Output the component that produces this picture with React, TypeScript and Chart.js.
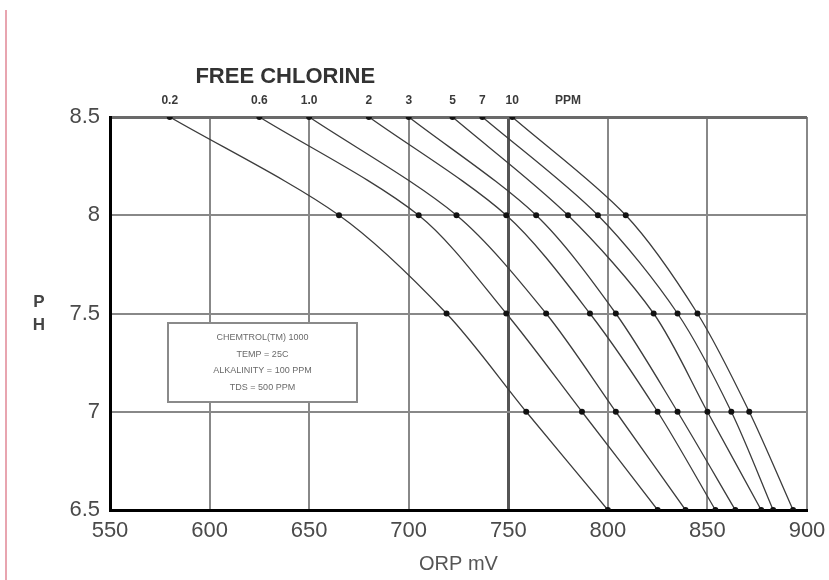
import React, { useEffect, useRef } from "react";
import { Chart, registerables } from "chart.js";

Chart.register(...registerables);

// pH levels at which each curve is read
const phLevels = [8.5, 8, 7.5, 7, 6.5];

// Free chlorine concentrations (PPM) and the ORP (mV) of each curve at the pH levels above
const ppmLabels = ["0.2", "0.6", "1.0", "2", "3", "5", "7", "10"];
const orp0_2 = [580, 665, 719, 759, 800];
const orp0_6 = [625, 705, 749, 787, 825];
const orp1_0 = [650, 724, 769, 804, 839];
const orp2 = [680, 749, 791, 825, 854];
const orp3 = [700, 764, 804, 835, 864];
const orp5 = [722, 780, 823, 850, 877];
const orp7 = [737, 795, 835, 862, 883];
const orp10 = [752, 809, 845, 871, 893];
const series = [orp0_2, orp0_6, orp1_0, orp2, orp3, orp5, orp7, orp10];

// axis ticks
const xTicks = [550, 600, 650, 700, 750, 800, 850, 900];
const yTicks = [6.5, 7, 7.5, 8, 8.5];

const noteLines = ["CHEMTROL(TM) 1000", "TEMP = 25C", "ALKALINITY = 100 PPM", "TDS = 500 PPM"];

const FONT = "'Liberation Sans', Arial, sans-serif";

const overlay = {
  id: "overlay",
  beforeDatasetsDraw(chart: any) {
    const { ctx } = chart;
    const xs = chart.scales.x;
    const ys = chart.scales.y;
    const l = Math.round(xs.getPixelForValue(579));
    const r = Math.round(xs.getPixelForValue(674));
    const t = Math.round(ys.getPixelForValue(7.45));
    const b = Math.round(ys.getPixelForValue(7.05));
    ctx.save();
    ctx.fillStyle = "#ffffff";
    ctx.fillRect(l, t, r - l, b - t);
    ctx.strokeStyle = "#8a8a8a";
    ctx.lineWidth = 2;
    ctx.strokeRect(l, t, r - l, b - t);
    ctx.fillStyle = "#6a6a6a";
    ctx.font = `9px ${FONT}`;
    ctx.textAlign = "center";
    ctx.textBaseline = "middle";
    const cx = (l + r) / 2;
    const step = (b - t) / (noteLines.length + 0.8);
    noteLines.forEach((s, i) => {
      ctx.fillText(s, cx, t + step * (i + 0.9));
    });
    ctx.restore();
  },
  afterDraw(chart: any) {
    const { ctx } = chart;
    const xs = chart.scales.x;
    const ys = chart.scales.y;
    ctx.save();
    // title
    ctx.fillStyle = "#333";
    ctx.font = `bold 22px ${FONT}`;
    ctx.textAlign = "center";
    ctx.textBaseline = "middle";
    ctx.fillText("FREE CHLORINE", xs.getPixelForValue(638), 77);
    // concentration labels
    ctx.font = `bold 12px ${FONT}`;
    ctx.fillStyle = "#3a3a3a";
    series.forEach((arr, i) => {
      ctx.fillText(ppmLabels[i], xs.getPixelForValue(arr[0]), 101);
    });
    ctx.fillText("PPM", xs.getPixelForValue(780), 101);
    // pH label
    ctx.font = `bold 17px ${FONT}`;
    ctx.fillStyle = "#444";
    const py = ys.getPixelForValue(7.5);
    ctx.fillText("P", 39, py - 11);
    ctx.fillText("H", 39, py + 12);
    ctx.restore();
  },
};

export default function App() {
  const ref = useRef<HTMLCanvasElement | null>(null);
  useEffect(() => {
    if (!ref.current) return;
    const datasets = series.map((arr, i) => ({
      label: ppmLabels[i] + " PPM",
      data: arr.map((v, j) => ({ x: v, y: phLevels[j] })),
      borderColor: "#3c3c3c",
      borderWidth: 1.3,
      pointRadius: 3,
      pointBackgroundColor: "#111",
      pointBorderWidth: 0,
      tension: 0.3,
      showLine: true,
      fill: false,
    }));
    const chart = new Chart(ref.current, {
      type: "scatter",
      data: { datasets },
      plugins: [overlay],
      options: {
        animation: false,
        responsive: false,
        layout: { padding: { top: 117, right: 22, left: 0, bottom: 0 } },
        plugins: { legend: { display: false }, tooltip: { enabled: false }, title: { display: false } },
        scales: {
          x: {
            type: "linear",
            min: xTicks[0],
            max: xTicks[xTicks.length - 1],
            afterBuildTicks: (s: any) => {
              s.ticks = xTicks.map((v) => ({ value: v }));
            },
            afterFit: (s: any) => {
              s.height = 70;
              s.paddingRight = 0;
              s.paddingLeft = 0;
            },
            ticks: { font: { size: 22, family: FONT }, color: "#4a4a4a", padding: 8, maxRotation: 0 },
            grid: {
              drawTicks: false,
              color: (c: any) => (c.tick && c.tick.value === 750 ? "#555" : "#888"),
              lineWidth: (c: any) => (c.tick && c.tick.value === 750 ? 3 : 2),
            },
            border: { display: true, color: "#000", width: 3 },
            title: {
              display: true,
              text: "ORP mV",
              font: { size: 20, family: FONT },
              color: "#555",
              padding: { top: 0, bottom: 4 },
            },
          },
          y: {
            type: "linear",
            min: yTicks[0],
            max: yTicks[yTicks.length - 1],
            afterBuildTicks: (s: any) => {
              s.ticks = yTicks.map((v) => ({ value: v }));
            },
            afterFit: (s: any) => {
              s.width = 110;
            },
            ticks: {
              font: { size: 22, family: FONT },
              color: "#4a4a4a",
              padding: 10,
              callback: (v: any) => String(v),
            },
            grid: {
              drawTicks: false,
              color: (c: any) => (c.tick && c.tick.value === 8.5 ? "#6a6a6a" : "#888"),
              lineWidth: (c: any) => (c.tick && c.tick.value === 8.5 ? 3 : 2),
            },
            border: { display: true, color: "#000", width: 3 },
          },
        },
      },
    });
    return () => chart.destroy();
  }, []);
  return (
    <div style={{ position: "absolute", left: 0, top: 0, width: 829, height: 580, background: "#fff" }}>
      <div style={{ position: "absolute", left: 5, top: 10, width: 2, height: 570, background: "#e8a5b0" }} />
      <canvas ref={ref} width={829} height={580} style={{ position: "absolute", left: 0, top: 0, width: 829, height: 580 }} />
    </div>
  );
}
